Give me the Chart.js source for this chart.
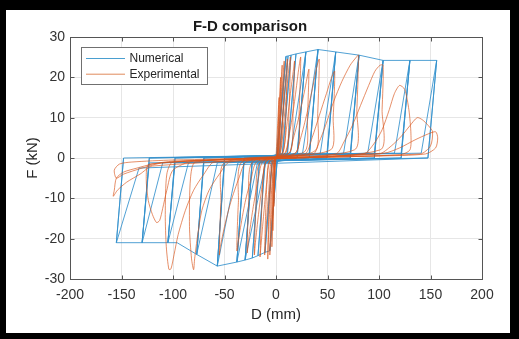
<!DOCTYPE html>
<html>
<head>
<meta charset="utf-8">
<script src="https://cdn.jsdelivr.net/npm/chart.js@4.4.1/dist/chart.umd.min.js"></script>
<style>
  html, body { margin: 0; padding: 0; background: #000; }
  canvas { display: block; }
</style>
</head>
<body>
<canvas id="fdChart" width="519" height="339"></canvas>
<script>
// axis ticks
const xTicks = [-200, -150, -100, -50, 0, 50, 100, 150, 200];
const yTicks = [-30, -20, -10, 0, 10, 20, 30];

// Numerical model: displacement (mm) / force (kN), one cycle group per line
const numD = [
    0, 9.7, 1.2, 1, -6, 1,
    1.2, 9.7, 11.7, 3.2, 1, -6, -10.7, -3.7,
    3.2, 11.7, 14.6, 6.1, -3.7, -10.7, -17.5, -10.5,
    6.1, 14.6, 19.4, 10.9, -10.5, -17.5, -23, -16,
    10.9, 19.4, 29, 20.5, -16, -23, -30, -23, 14, 29, 20.5, -10, -30, -23,
    20.5, 29, 40.8, 32.3, -23, -30, -38, -31, 25.8, 40.8, 32.3, -18, -38, -31,
    32.3, 40.8, 58, 49.5, -31, -38, -57, -50, 43, 58, 49.5, -37, -57, -50,
    49.5, 58, 80.6, 72.1, -50, -57, -77, -70, 65.6, 80.6, 72.1, -57, -77, -70,
    72.1, 80.6, 104, 95.5, -70, -77, -96, -105, -98, 89, 104, 95.5, -85, -105, -98,
    95.5, 104, 130, 121.5, -98, -105, -130, -123, 115, 130, 121.5, -110, -130, -123,
    121.5, 130, 156, 147.5, -123, -130, -155, -148, 141, 156, 147.5, -133, -155, -148
];
const numF = [
    0, 25.2, 0, -1.2, -23, 0,
    1.2, 25.2, 25.3, 0, -1.2, -23, -23.4, 0,
    1.2, 25.3, 25.5, 0, -1.2, -23.4, -24.2, 0,
    1.2, 25.5, 25.8, 0, -1.2, -24.2, -24.8, 0,
    1.2, 25.8, 26.3, 0, -1.2, -24.8, -25.3, 0, 1.2, 26.3, 0, -1.2, -25.3, 0,
    1.2, 26.3, 26.9, 0, -1.2, -25.3, -25.8, 0, 1.2, 26.9, 0, -1.2, -25.8, 0,
    1.2, 26.9, 26.3, 0, -1.2, -25.8, -26.8, 0, 1.2, 26.3, 0, -1.2, -26.8, 0,
    1.2, 26.3, 25.5, 0, -1.2, -26.8, -23.9, 0, 1.2, 25.5, 0, -1.2, -23.9, 0,
    1.2, 25.5, 24.2, 0, -1.2, -23.9, -21, -21, 0, 1.2, 24.2, 0, -1.2, -21, 0,
    1.2, 24.2, 24.2, 0, -1.2, -21, -21, 0, 1.2, 24.2, 0, -1.2, -21, 0,
    1.2, 24.2, 24.2, 0, -1.2, -21, -21, 0, 1.2, 24.2, 0, -2.5, -21, 0
];

// Experimental test, one loop per line
const expD = [
    0,
    1.5, 3, 2, 1, -1, -1.5, -2, -1, 0,
    1, 2.5, 4.5, 3.5, 2, -1, -2.2, -3, -2, 0,
    1.5, 4, 6, 4.5, 2.5, -1.5, -3, -4, -2.8, -0.5,
    2, 5, 7, 8, 6.5, 4, -2, -4, -5.5, -6, -4.5, -1.5,
    3, 7, 10, 11, 9.5, 7, -3, -6, -7.5, -8, -6.5, -3,
    4, 8, 12, 14, 12.5, 10, -4, -7, -10, -11, -9.5, -6,
    6, 10, 14, 17, 18, 16.5, 14, -6, -9, -13, -15, -15.5, -13.5, -10,
    8, 13, 18, 22, 24, 22.5, 20, -9, -13, -17, -20, -21, -19.5, -16,
    12, 17, 23, 28, 31, 32, 30.5, 28, -12, -17, -22, -26, -28, -26.5, -23,
    18, 24, 30, 36, 40, 42, 40.5, 38, -18, -24, -30, -35, -38, -36.5, -33,
    28, 35, 42, 49, 54, 57, 55.5, 53, -28, -36, -44, -50, -54, -55, -53.5, -50,
    36, 42, 48, 56, 64, 72, 78, 80, 78.5, 76, -45, -55, -65, -72, -76, -79, -80, -82, -84, -83, -78,
    58, 66, 74, 82, 90, 96, 101, 104, 103, 101, -60, -70, -80, -88, -95, -99, -102, -104, -106.5, -107.5, -106, -100,
    85, 95, 103, 110, 115, 120, 125, 129, 131, 130, 120, -80, -100, -106, -110, -113, -116, -120, -124, -126, -123,
    100, 112, 122, 130, 137, 142, 148, 152, 150, 140, -100, -120, -135, -148, -155, -157, -158, -154, -145, -132, -120,
    105, 120, 135, 148, 155, 157, 155, 145, 100, -100, -140, -152, -157, -155, -148, -130, -110, -60, 0
];
const expF = [
    0,
    8, 15, 5, 0.5, -0.3, -7, -12, -4, 0,
    0.5, 10, 20, 8, 1, -0.5, -10, -18, -7, 0.2,
    0.8, 14, 23, 10, 1.2, -0.6, -12, -22, -8, 0,
    1, 13, 21, 24, 10, 1.2, -0.8, -12, -21, -24, -9, -0.3,
    1, 12, 22, 24.5, 10, 1.5, -0.8, -12, -21, -25, -10, -0.5,
    1, 10, 21, 25, 11, 1.5, -0.6, -8, -19, -24, -10, -0.8,
    1, 7, 16, 22, 24, 11, 1.6, -0.6, -6, -17, -23, -24.5, -11, -1,
    1, 6, 14, 22, 25, 12, 1.5, -0.6, -6, -14, -21, -24, -12, -1.2,
    1, 5, 11, 17, 21, 22, 10, 1.6, -0.7, -5, -12, -19, -23.5, -11, -1,
    1, 5, 11, 18, 23, 24.5, 11, 1.8, -0.8, -5, -11, -18, -23, -11, -1,
    1, 5, 10.5, 16, 20, 21.5, 10, 2, -0.8, -5, -11, -17, -22, -24, -11, -1.2,
    1, 4, 8, 14, 19, 23, 25, 25.5, 12, 2, -1, -4, -8, -13, -19, -25, -27.7, -25, -17, -5, -1,
    1, 4, 8, 13, 18, 21.5, 23, 23, 12, 2, -1, -4, -8, -13, -19, -24, -27.5, -27.6, -22, -14, -4, -1,
    1, 3.5, 7, 12, 16, 18, 17, 12, 6, 2, 0.8, -0.8, -3, -8, -12.5, -15.5, -16, -14, -10.5, -5, -1.5,
    1, 3, 5.5, 8, 10, 9.5, 8, 6.5, 3, 1, -0.8, -1.5, -2.5, -3.5, -5, -8, -9.5, -8, -6, -4, -2,
    1.2, 2.5, 4.5, 6, 6.5, 5, 2.5, 1, 0.5, -0.5, -1, -1.5, -3, -5, -4, -2.5, -1.2, -0.5, 0
];

const FONT = "'Liberation Sans', Arial, Helvetica, sans-serif";

function toPoints(xs, ys) {
    const n = Math.min(xs.length, ys.length);
    const pts = [];
    for (let i = 0; i < n; i++) pts.push({ x: xs[i], y: ys[i] });
    return pts;
}

// black frame around the white figure
const framePlugin = {
    id: "frame",
    beforeDraw(chart) {
        const ctx = chart.ctx;
        ctx.save();
        ctx.fillStyle = "#000";
        ctx.fillRect(0, 0, chart.width, chart.height);
        ctx.fillStyle = "#fff";
        ctx.fillRect(6, 10, 504, 323);
        ctx.restore();
    }
};

// matlab style box with inward ticks
const axesBoxPlugin = {
    id: "axesBox",
    afterDatasetsDraw(chart) {
        const { ctx, chartArea: a, scales } = chart;
        const l = Math.round(a.left) + 0.5, r = Math.round(a.right) + 0.5;
        const t = Math.round(a.top) + 0.5, b = Math.round(a.bottom) + 0.5;
        ctx.save();
        ctx.strokeStyle = "#555";
        ctx.lineWidth = 1;
        ctx.beginPath();
        xTicks.forEach((v) => {
            const px = Math.round(scales.x.getPixelForValue(v)) + 0.5;
            ctx.moveTo(px, b); ctx.lineTo(px, b - 4);
            ctx.moveTo(px, t); ctx.lineTo(px, t + 4);
        });
        yTicks.forEach((v) => {
            const py = Math.round(scales.y.getPixelForValue(v)) + 0.5;
            ctx.moveTo(l, py); ctx.lineTo(l + 4, py);
            ctx.moveTo(r, py); ctx.lineTo(r - 4, py);
        });
        ctx.stroke();
        ctx.strokeRect(l, t, r - l, b - t);
        ctx.restore();
    }
};

// legend box in upper left corner of the axes
const boxLegendPlugin = {
    id: "boxLegend",
    afterDraw(chart) {
        const ctx = chart.ctx;
        const a = chart.chartArea;
        const bx = Math.round(a.left + 11), by = Math.round(a.top + 10);
        ctx.save();
        ctx.fillStyle = "#fff";
        ctx.fillRect(bx, by, 126, 37);
        ctx.strokeStyle = "#707070";
        ctx.lineWidth = 1;
        ctx.strokeRect(bx + 0.5, by + 0.5, 126, 37);
        ctx.font = "12px " + FONT;
        ctx.textBaseline = "middle";
        chart.data.datasets.forEach((ds, i) => {
            const ly = by + 11.5 + i * 15.7;
            ctx.strokeStyle = ds.legendColor;
            ctx.beginPath();
            ctx.moveTo(bx + 5, ly);
            ctx.lineTo(bx + 44, ly);
            ctx.stroke();
            ctx.fillStyle = "#262626";
            ctx.fillText(ds.label, bx + 48.5, ly + 0.5);
        });
        ctx.restore();
    }
};

new Chart(document.getElementById("fdChart"), {
    type: "scatter",
    data: {
        datasets: [
            {
                label: "Numerical",
                data: toPoints(numD, numF),
                showLine: true,
                borderColor: "rgba(50,145,205,0.85)",
                legendColor: "#4a9fd0",
                borderWidth: 1,
                pointRadius: 0,
                tension: 0,
                order: 2,
            },
            {
                label: "Experimental",
                data: toPoints(expD, expF),
                showLine: true,
                borderColor: "rgba(217,83,25,0.65)",
                legendColor: "#e08a5c",
                borderWidth: 1,
                pointRadius: 0,
                tension: 0.25,
                order: 1,
            },
        ],
    },
    options: {
        responsive: false,
        devicePixelRatio: 1,
        animation: false,
        events: [],
        layout: { padding: { left: 18, right: 37, top: 10, bottom: 10 } },
        plugins: {
            legend: { display: false },
            tooltip: { enabled: false },
            title: {
                display: true,
                text: "F-D comparison",
                color: "#1a1a1a",
                font: { family: FONT, size: 15, weight: "bold" },
                padding: { top: 8, bottom: 1 },
            },
        },
        scales: {
            x: {
                type: "linear",
                min: -200,
                max: 200,
                afterBuildTicks: (s) => { s.ticks = xTicks.map((v) => ({ value: v })); },
                afterFit: (s) => { s.height = 50; },
                grid: { color: "#e6e6e6", drawTicks: false },
                border: { display: false },
                ticks: { color: "#333", font: { family: FONT, size: 14 }, padding: 8, maxRotation: 0, autoSkip: false },
                title: {
                    display: true,
                    text: "D (mm)",
                    color: "#262626",
                    font: { family: FONT, size: 15 },
                    padding: { top: 0, bottom: 5 },
                },
            },
            y: {
                type: "linear",
                min: -30,
                max: 30,
                afterBuildTicks: (s) => { s.ticks = yTicks.map((v) => ({ value: v })); },
                afterFit: (s) => { s.width = 52; },
                grid: { color: "#e6e6e6", drawTicks: false },
                border: { display: false },
                ticks: { color: "#333", font: { family: FONT, size: 14 }, padding: 5, autoSkip: false },
                title: {
                    display: true,
                    text: "F (kN)",
                    color: "#262626",
                    font: { family: FONT, size: 15 },
                    padding: { top: 6, bottom: 0 },
                },
            },
        },
    },
    plugins: [framePlugin, axesBoxPlugin, boxLegendPlugin],
});
</script>
</body>
</html>
